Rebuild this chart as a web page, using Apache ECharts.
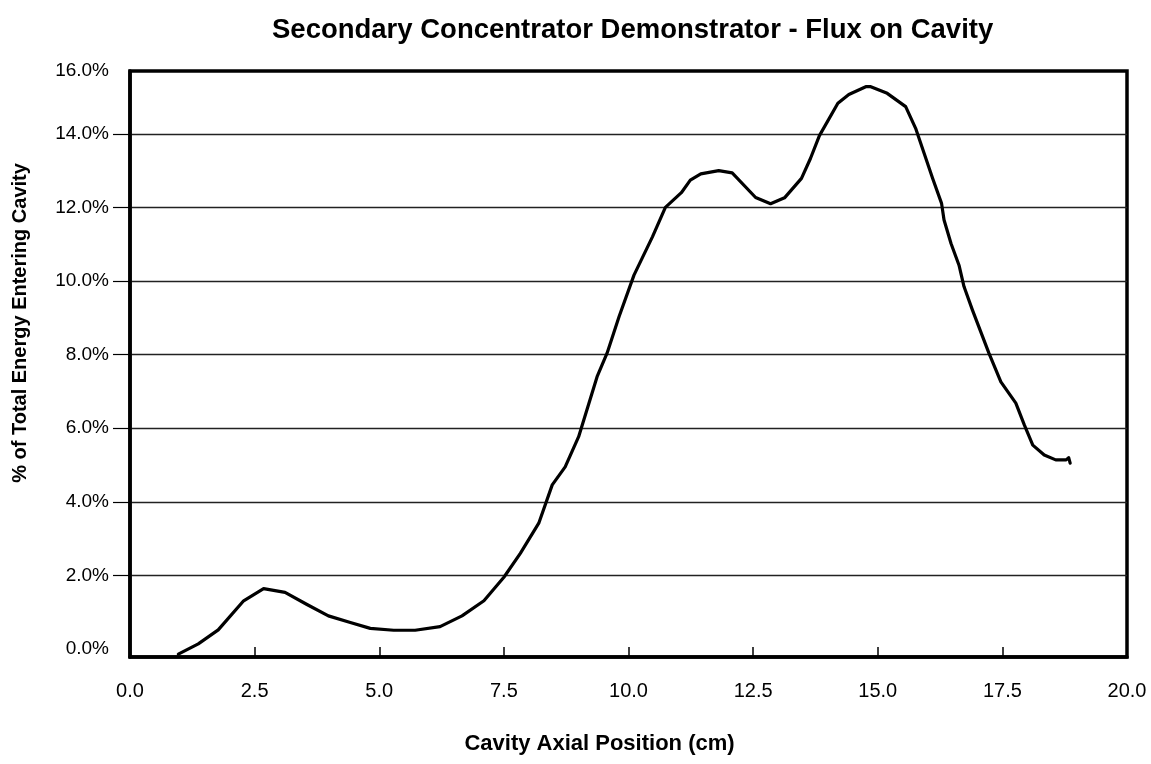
<!DOCTYPE html>
<html>
<head>
<meta charset="utf-8">
<script src="https://cdn.jsdelivr.net/npm/echarts@6/dist/echarts.min.js"></script>
<style>html,body{margin:0;padding:0;background:#fff}#chart{width:1151px;height:764px}</style>
</head>
<body>
<div id="chart"></div>
<script>
// Cavity axial position (cm)
const positions = [0.97,1.37,1.77,2.28,2.68,3.11,3.55,3.98,4.42,4.82,5.29,5.72,6.22,6.66,7.10,7.50,7.83,8.20,8.47,8.73,9.00,9.37,9.57,9.81,10.11,10.48,10.74,11.06,11.24,11.45,11.81,12.08,12.55,12.85,13.13,13.47,13.65,13.83,14.20,14.42,14.76,14.86,15.19,15.56,15.76,15.93,16.10,16.28,16.33,16.47,16.63,16.73,16.90,17.23,17.47,17.77,17.94,18.11,18.34,18.57,18.78,18.83,18.86];
// % of total energy entering cavity
const fluxPct = [-0.14,0.14,0.52,1.31,1.64,1.54,1.21,0.90,0.72,0.56,0.51,0.51,0.61,0.90,1.31,1.95,2.60,3.42,4.46,4.95,5.77,7.40,8.04,9.03,10.16,11.20,12.00,12.40,12.74,12.91,13.00,12.94,12.27,12.10,12.26,12.79,13.33,13.95,14.83,15.07,15.28,15.28,15.10,14.74,14.15,13.47,12.79,12.11,11.66,11.02,10.43,9.85,9.21,8.04,7.26,6.68,6.09,5.54,5.27,5.14,5.14,5.20,5.05];
const yTickLabels = ['0.0%','2.0%','4.0%','6.0%','8.0%','10.0%','12.0%','14.0%','16.0%'];
const xTickLabels = ['0.0','2.5','5.0','7.5','10.0','12.5','15.0','17.5','20.0'];
const titleText = 'Secondary Concentrator Demonstrator - Flux on Cavity';
const xName = 'Cavity Axial Position (cm)';
const yName = '% of Total Energy Entering Cavity';

const font = "'Liberation Sans', Arial, Helvetica, sans-serif";
const chart = echarts.init(document.getElementById('chart'), null, {renderer: 'canvas'});
// plot box extent (the box runs slightly past the 0% and short of the 16% gridline in the original)
const yMin = -0.217, yMax = 15.707;
chart.setOption({
  animation: false,
  backgroundColor: '#fff',
  title: {
    text: titleText, left: 267, top: 11,
    textStyle: {fontFamily: font, fontSize: 27.5, fontWeight: 'bold', color: '#000'}
  },
  grid: {left: 130, right: 24, top: 71, bottom: 107, show: true, borderColor: '#000', borderWidth: 3.5, backgroundColor: 'transparent'},
  xAxis: {
    type: 'value', min: 0, max: 20, interval: 2.5,
    name: xName, nameLocation: 'middle', nameGap: 76,
    nameTextStyle: {fontFamily: font, fontSize: 22, fontWeight: 'bold', color: '#000', padding: [0, 58, 0, 0]},
    axisLine: {show: true, onZero: false, lineStyle: {color: '#000', width: 3.5}},
    axisTick: {show: true, inside: true, length: 10, lineStyle: {color: '#000', width: 1.5}},
    axisLabel: {margin: 24, fontFamily: font, fontSize: 20, color: '#000',
      formatter: v => xTickLabels[Math.round(v / 2.5)]},
    splitLine: {show: false}
  },
  yAxis: {
    type: 'value', min: yMin, max: yMax,
    name: yName, nameLocation: 'middle', nameRotate: 90, nameGap: 100,
    nameTextStyle: {fontFamily: font, fontSize: 20, fontWeight: 'bold', color: '#000', padding: [0, 0, 0, 82]},
    axisLine: {show: true, onZero: false, lineStyle: {color: '#000', width: 3.5}},
    axisTick: {show: true, inside: false, length: 17, lineStyle: {color: '#000', width: 1.2},
      customValues: [2, 4, 6, 8, 10, 12, 14]},
    axisLabel: {margin: 21, fontFamily: font, fontSize: 19, color: '#000', padding: [6, 0, 0, 0],
      customValues: [0, 2, 4, 6, 8, 10, 12, 14, yMax],
      formatter: v => (v > 15 ? yTickLabels[8] : yTickLabels[Math.round(v / 2)])},
    splitLine: {show: true, lineStyle: {color: '#222', width: 1.3}}
  },
  series: [{
    type: 'line',
    data: positions.map((x, i) => [x, fluxPct[i]]),
    showSymbol: false, symbol: 'none', smooth: false,
    lineStyle: {color: '#000', width: 3.2, join: 'round', cap: 'round'},
    z: 5
  }]
});
</script>
</body>
</html>
